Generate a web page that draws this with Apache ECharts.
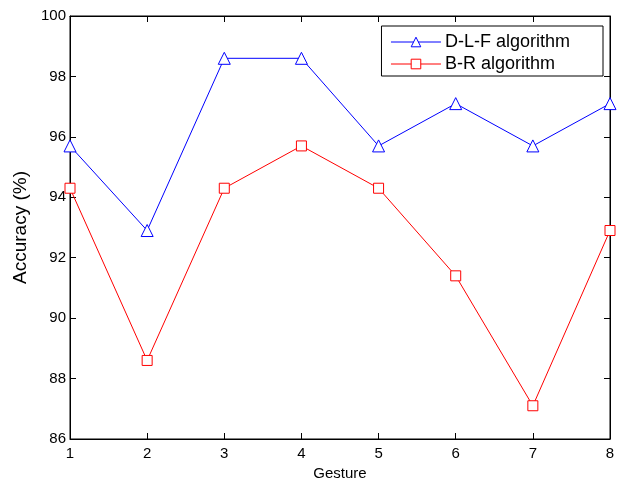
<!DOCTYPE html>
<html>
<head>
<meta charset="utf-8">
<script src="https://cdn.jsdelivr.net/npm/echarts@6/dist/echarts.min.js"></script>
<style>
  html, body { margin: 0; padding: 0; background: #fff; }
  #chart { width: 618px; height: 479px; }
</style>
</head>
<body>
<div id="chart"></div>
<script>
// gesture numbers
const gestures = [1, 2, 3, 4, 5, 6, 7, 8]
// accuracy values (%)
const dlfAccuracy = [95.7, 92.9, 98.6, 98.6, 95.7, 97.1, 95.7, 97.1]
const brAccuracy = [94.3, 88.6, 94.3, 95.7, 94.3, 91.4, 87.1, 92.9]

const toPoints = (vals) => gestures.map((g, i) => [g, vals[i]])

const chart = echarts.init(document.getElementById('chart'))
const font = 'Liberation Sans, Arial, sans-serif'
const tickStyle = { show: true, inside: true, length: 6, lineStyle: { color: '#000' } }

const option = {
  backgroundColor: '#fff',
  animation: false,
  textStyle: { fontFamily: font },
  grid: {
    left: 70, right: 8, top: 16, bottom: 40,
    outerBoundsMode: 'none',
    containLabel: false,
    show: true, borderColor: '#000', borderWidth: 1, backgroundColor: '#fff'
  },
  legend: {
    right: 15, top: 26,
    orient: 'vertical',
    backgroundColor: '#fff',
    borderColor: '#000', borderWidth: 1,
    padding: [7, 33, 3, 9],
    itemGap: 4,
    itemWidth: 50, itemHeight: 12,
    lineStyle: { width: 1 },
    itemStyle: { borderWidth: 1 },
    textStyle: { fontSize: 18, color: '#000', fontFamily: font, padding: [0, 0, 0, -1] },
    data: ['D-L-F algorithm', 'B-R algorithm']
  },
  xAxis: [
    {
      type: 'value', min: 1, max: 8, interval: 1,
      name: 'Gesture', nameLocation: 'middle', nameGap: 27,
      nameTextStyle: { fontSize: 15, color: '#000' },
      axisLine: { lineStyle: { color: '#000' } },
      axisTick: tickStyle,
      axisLabel: { fontSize: 15, color: '#000', margin: 7 },
      splitLine: { show: false }
    },
    {
      type: 'value', min: 1, max: 8, interval: 1, position: 'top',
      axisLine: { lineStyle: { color: '#000' } },
      axisTick: tickStyle,
      axisLabel: { show: false },
      splitLine: { show: false }
    }
  ],
  yAxis: [
    {
      type: 'value', min: 86, max: 100, interval: 2,
      name: 'Accuracy (%)', nameLocation: 'middle', nameGap: 35,
      nameTextStyle: { fontSize: 19, color: '#000' },
      axisLine: { show: true, lineStyle: { color: '#000' } },
      axisTick: tickStyle,
      axisLabel: { fontSize: 15, color: '#000', margin: 4 },
      splitLine: { show: false }
    },
    {
      type: 'value', min: 86, max: 100, interval: 2, position: 'right',
      axisLine: { show: true, lineStyle: { color: '#000' } },
      axisTick: tickStyle,
      axisLabel: { show: false },
      splitLine: { show: false }
    }
  ],
  series: [
    {
      name: 'D-L-F algorithm',
      type: 'line',
      data: toPoints(dlfAccuracy),
      symbol: 'triangle',
      symbolSize: 12,
      itemStyle: { color: '#fff', borderColor: '#0000ff', borderWidth: 1 },
      lineStyle: { color: '#0000ff', width: 1 }
    },
    {
      name: 'B-R algorithm',
      type: 'line',
      data: toPoints(brAccuracy),
      symbol: 'rect',
      symbolSize: 10,
      itemStyle: { color: '#fff', borderColor: '#ff0000', borderWidth: 1 },
      lineStyle: { color: '#ff0000', width: 1 }
    }
  ]
}
chart.setOption(option)
</script>
</body>
</html>
